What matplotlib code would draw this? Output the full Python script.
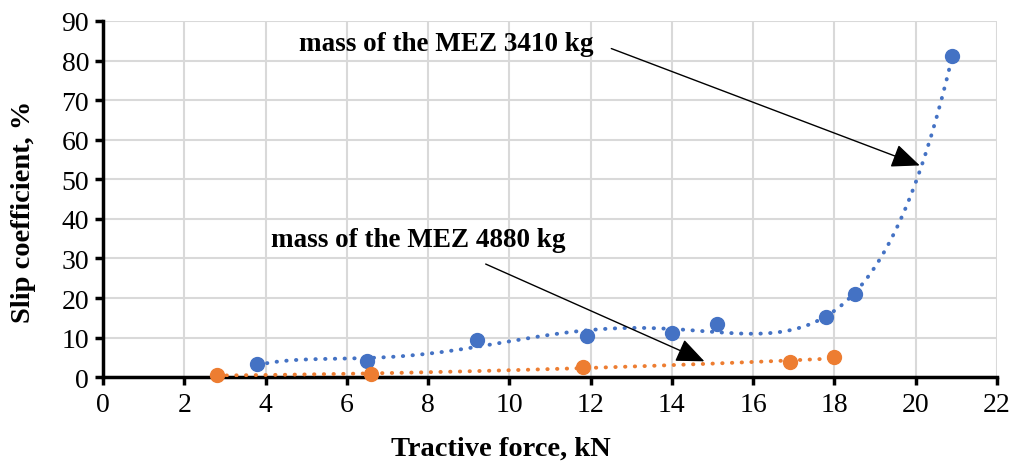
import numpy as np
import matplotlib
matplotlib.use("Agg")
import matplotlib.pyplot as plt

# Data
force_3410 = [3.8, 6.5, 9.2, 11.9, 14.0, 15.1, 17.8, 18.5, 20.9]
slip_3410 = [3.2, 4.1, 9.3, 10.3, 11.1, 13.5, 15.1, 21.0, 81.2]
force_4880 = [2.8, 6.6, 11.8, 16.9, 18.0]
slip_4880 = [0.5, 0.7, 2.6, 3.8, 5.0]

label_3410 = "mass of the MEZ 3410 kg"
label_4880 = "mass of the MEZ 4880 kg"
xlabel = "Tractive force, kN"
ylabel = "Slip coefficient, %"

blue = "#4472C4"
orange = "#ED7D31"

plt.rcParams['font.family'] = ['Liberation Serif', 'DejaVu Serif']

fig = plt.figure(figsize=(10.13, 4.64), dpi=100)
ax = fig.add_axes([0.1017, 0.185, 0.8825, 0.7676])
ax.set_xlim(0, 22)
ax.set_ylim(0, 90)

ax.grid(True, color="#d9d9d9", linewidth=1.5, zorder=0)
ax.set_axisbelow(True)
ax.set_xticks(np.arange(0, 23, 2))
ax.set_yticks(np.arange(0, 91, 10))

# polynomial trendlines (Excel-like), dotted
for xs, ys, c, deg in [(force_3410, slip_3410, blue, 5), (force_4880, slip_4880, orange, 2)]:
    coef = np.polyfit(xs, ys, deg)
    xx = np.linspace(min(xs), max(xs), 400)
    ax.plot(xx, np.polyval(coef, xx), color=c, linestyle=(0, (0.1, 2.4)), linewidth=2.8,
            dash_capstyle='round', zorder=3)
    ax.plot(xs, ys, 'o', color=c, markersize=10, zorder=4, clip_on=False)

for s in ['top', 'right']:
    ax.spines[s].set_visible(False)
for s in ['left', 'bottom']:
    ax.spines[s].set_linewidth(2.5)
    ax.spines[s].set_color('black')
ax.tick_params(axis='both', direction='out', length=6, width=2.5, labelsize=20, colors='black')
ax.tick_params(axis='x', pad=5)
ax.tick_params(axis='y', pad=4)

ax.set_xlabel(xlabel, fontsize=20.5, fontweight='bold')
ax.set_ylabel(ylabel, fontsize=20.5, fontweight='bold')
ax.xaxis.set_label_coords(0.445, -0.2)
ax.xaxis.label.set_va('center')
ax.yaxis.set_label_coords(-0.0895, 0.466)
ax.yaxis.label.set_va('center')

ax.annotate(label_3410, xy=(20.1, 53.5), xytext=(8.45, 84.3),
            fontsize=19.5, fontweight='bold', ha='center', va='center',
            arrowprops=dict(arrowstyle='-|>,head_length=0.9,head_width=0.38', color='black',
                            lw=1.0, shrinkA=0, shrinkB=0,
                            relpos=(1.06, 0.3)))
ax.annotate(label_4880, xy=(14.8, 4.0), xytext=(7.75, 34.9),
            fontsize=19.5, fontweight='bold', ha='center', va='center',
            arrowprops=dict(arrowstyle='-|>,head_length=0.9,head_width=0.38', color='black',
                            lw=1.0, shrinkA=0, shrinkB=0,
                            relpos=(0.73, -0.5)))

fig.savefig("out.png", dpi=100)
